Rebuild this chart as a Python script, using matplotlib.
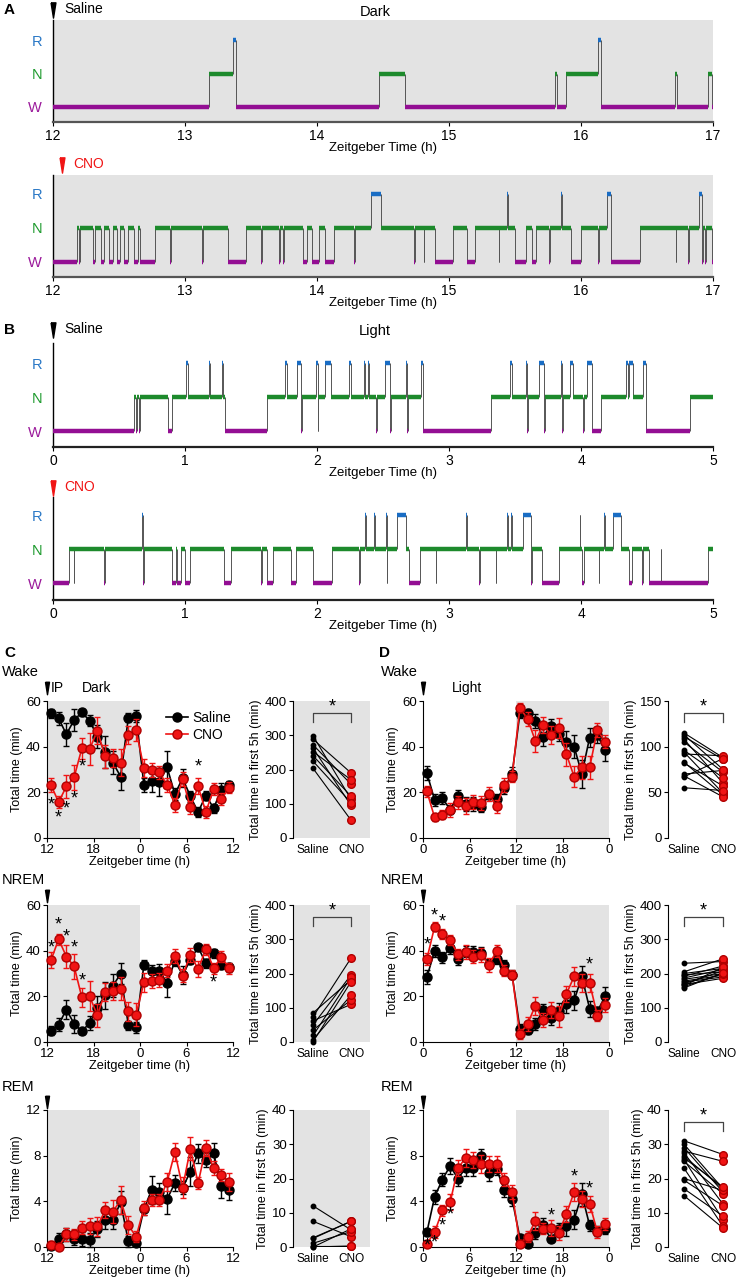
import numpy as np
import matplotlib
matplotlib.use('Agg')
import matplotlib.pyplot as plt
from matplotlib.lines import Line2D

plt.rcParams['font.family'] = ['Liberation Sans', 'DejaVu Sans']

# ---------------- hypnogram data (bout onsets in ZT hours + state) ----------------
a_sal_t = [12.0, 13.18, 13.365, 13.39, 14.47, 14.67, 15.80, 15.815, 15.89, 16.13,
           16.155, 16.71, 16.73, 16.96, 16.99]
a_sal_s = "WNRWNWNWNRWNWNW"

a_cno_t = [12.000, 12.185, 12.200, 12.206, 12.302, 12.320, 12.362, 12.387, 12.423, 12.451,
           12.487, 12.505, 12.540, 12.565, 12.611, 12.647, 12.657, 12.771, 12.888, 12.894,
           13.127, 13.133, 13.322, 13.464, 13.578, 13.586, 13.713, 13.719, 13.741, 13.747,
           13.891, 13.926, 13.962, 14.015, 14.058, 14.129, 14.281, 14.287, 14.406, 14.484,
           14.733, 14.739, 14.807, 14.813, 14.896, 15.028, 15.134, 15.198, 15.376, 15.382,
           15.443, 15.449, 15.500, 15.586, 15.632, 15.660, 15.756, 15.762, 15.852, 15.858,
           15.923, 15.998, 16.129, 16.135, 16.200, 16.229, 16.449, 16.716, 16.722, 16.811,
           16.817, 16.893, 16.918, 16.925, 16.940, 16.946, 16.989]
a_cno_s = ("WNWNWNWNWNWNWNWNWNWN"
           "WNWNWNWNWN"
           "WNWNWNWNRN"
           "WNWNWNWNWN"
           "RNWNWNWNRN"
           "WNWNRWNWNW"
           "NRWNWNW")

b_sal_t = [0.000, 0.610, 0.628, 0.634, 0.653, 0.659, 0.869, 0.898, 1.008, 1.026,
           1.182, 1.192, 1.278, 1.288, 1.302, 1.622, 1.757, 1.771, 1.849, 1.877,
           1.883, 1.994, 2.005, 2.011, 2.058, 2.108, 2.243, 2.260, 2.356, 2.367,
           2.385, 2.395, 2.449, 2.455, 2.516, 2.551, 2.559, 2.672, 2.683, 2.689,
           2.786, 2.800, 3.318, 3.460, 3.481, 3.584, 3.594, 3.600, 3.680, 3.722,
           3.728, 3.847, 3.857, 3.863, 3.918, 3.936, 4.017, 4.023, 4.042, 4.081,
           4.152, 4.343, 4.357, 4.364, 4.397, 4.468, 4.489, 4.826]
b_sal_s = ("WNWNWNWNRN"
           "RNRNWNRNRW"
           "NRWNRNRNRN"
           "RNWNRWNRWN"
           "RWNRNRWNRW"
           "NRWNRNWNRW"
           "NRNRNRWN")

b_cno_t = [0.000, 0.124, 0.156, 0.162, 0.387, 0.393, 0.674, 0.684, 0.690, 0.901,
           0.930, 0.940, 0.972, 1.001, 1.036, 1.295, 1.348, 1.576, 1.582, 1.622,
           1.664, 1.806, 1.842, 1.969, 2.111, 2.317, 2.323, 2.367, 2.373, 2.431,
           2.437, 2.520, 2.527, 2.533, 2.608, 2.676, 2.697, 2.782, 2.899, 2.905,
           3.130, 3.136, 3.226, 3.232, 3.353, 3.359, 3.439, 3.446, 3.471, 3.478,
           3.563, 3.620, 3.626, 3.708, 3.833, 3.989, 3.996, 4.010, 4.020, 4.134,
           4.140, 4.177, 4.183, 4.241, 4.301, 4.365, 4.390, 4.465, 4.471, 4.514,
           4.603, 4.609, 4.965]
b_cno_s = ("WNWNWNRWNW"
           "NWNWNWNWNW"
           "NWNWNWNRNR"
           "NRWNRNWNWN"
           "RNWNWNRNRN"
           "RWNWNRNWNW"
           "NRNRNWNWNW"
           "NWN")

# ---------------- time course data (hourly bins, mean and SEM, min) ----------------
zt_bins = np.arange(24) + 0.5

c_wake_sal = [54.6, 52.4, 45.4, 51.7, 55.0, 51.4, 44.4, 37.6, 33.0, 26.9, 52.7, 53.4,
              23.3, 25.0, 24.6, 30.9, 19.2, 26.2, 18.2, 11.4, 18.6, 13.1, 21.1, 23.0]
c_wake_sal_e = [2, 3, 5, 5, 1.5, 2.5, 5, 7, 5, 6, 2, 2.5, 3, 5, 6, 7, 2.5, 4, 2.5, 2, 2, 2, 3, 2]
c_wake_cno = [23.3, 15.7, 22.6, 26.6, 39.3, 38.9, 47.0, 35.7, 34.9, 33.0, 45.1, 47.3,
              30.6, 29.8, 28.7, 23.3, 14.6, 25.8, 13.4, 22.6, 11.4, 21.5, 17.0, 22.1]
c_wake_cno_e = [3, 2.5, 5, 5.5, 4.5, 7, 6, 5, 4, 6, 4, 5, 4, 3, 3, 3, 3, 3, 3, 3.5, 2.5, 2.5, 2.5, 2.5]

c_nrem_sal = [5.0, 7.6, 14.2, 8.0, 4.7, 8.3, 15.1, 20.4, 24.6, 29.9, 7.3, 6.4,
              33.8, 30.9, 31.3, 25.8, 35.5, 29.4, 36.0, 41.5, 34.5, 38.9, 33.8, 32.8]
c_nrem_sal_e = [2, 3, 4, 4, 1, 3, 5, 6, 5, 4.5, 2, 2.5, 2, 3, 3, 6, 2, 4, 2, 1.5, 2, 2, 2, 2]
c_nrem_cno = [35.7, 45.0, 37.4, 33.1, 19.5, 20.0, 11.7, 21.8, 22.4, 23.3, 13.4, 11.9,
              26.1, 26.8, 27.2, 31.3, 37.7, 29.1, 38.2, 32.0, 40.6, 32.3, 37.4, 32.3]
c_nrem_cno_e = [3.5, 2.5, 5, 5.5, 4, 6.5, 5, 4, 4, 5, 4, 5, 4, 3, 3, 3, 3, 3, 3, 3.5, 2.5, 2.5, 2.5, 2.5]

c_rem_sal = [0.1, 0.7, 1.1, 0.7, 0.7, 0.6, 1.6, 2.4, 2.4, 3.9, 0.5, 0.35,
             3.3, 5.0, 4.8, 4.2, 5.6, 5.2, 6.6, 8.2, 7.6, 8.2, 5.3, 5.0]
c_rem_sal_e = [0.2, 0.5, 0.6, 0.5, 0.6, 0.6, 0.7, 0.8, 0.8, 1.0, 0.5, 0.3,
               0.5, 1.2, 0.8, 1.3, 0.7, 0.6, 1.3, 0.8, 0.6, 0.9, 1.0, 0.9]
c_rem_cno = [0.2, 0.0, 1.1, 1.1, 1.7, 1.8, 1.8, 3.2, 3.1, 4.1, 1.9, 0.9,
             3.4, 4.1, 4.1, 5.7, 8.3, 5.2, 8.6, 5.6, 8.7, 6.9, 6.3, 5.7]
c_rem_cno_e = [0.3, 0.2, 0.6, 0.5, 0.6, 0.7, 0.8, 0.7, 1.0, 1.2, 0.8, 0.5,
               0.6, 0.5, 0.5, 0.8, 0.8, 0.9, 1.0, 0.5, 0.7, 0.6, 0.5, 0.8]

d_wake_sal = [28.4, 16.7, 17.5, 12.4, 18.6, 15.0, 14.9, 13.4, 18.9, 17.2, 21.8, 28.0,
              54.6, 54.9, 51.3, 44.4, 49.2, 45.4, 42.2, 40.0, 28.0, 44.0, 44.9, 38.6]
d_wake_sal_e = [3, 2.5, 2.5, 2, 2.5, 3, 3, 2, 2, 2, 2.5, 3, 2, 1.5, 3, 4, 3, 3, 4.5, 5, 6, 4, 3.5, 5]
d_wake_cno = [20.4, 9.0, 10.2, 12.4, 15.6, 14.2, 15.7, 15.3, 19.4, 13.8, 23.3, 26.9,
              57.1, 52.1, 42.5, 49.5, 45.1, 48.1, 36.7, 26.9, 30.9, 30.9, 47.3, 42.2]
d_wake_cno_e = [2.5, 1.5, 2, 3, 3, 3.5, 3, 3, 3, 3, 3, 2.5, 2, 3, 5, 3.5, 4, 4.5, 5, 4.5, 5, 5, 3, 3]

d_nrem_sal = [28.4, 39.9, 37.1, 41.1, 36.4, 39.6, 39.6, 38.9, 34.2, 36.3, 33.8, 29.4,
              5.8, 5.4, 7.9, 13.8, 10.5, 13.7, 16.6, 18.2, 28.7, 14.6, 13.4, 20.0]
d_nrem_sal_e = [3, 2.5, 2.5, 2.5, 2.5, 2.5, 2.5, 2.5, 2, 2, 2, 2, 2, 2, 2.5, 3, 3, 3.5, 4, 4, 4.5, 3.5, 2, 4]
d_nrem_cno = [36.4, 50.5, 47.3, 44.7, 38.4, 39.3, 37.4, 38.2, 33.8, 39.9, 31.3, 29.4,
              3.5, 8.0, 15.9, 9.5, 14.1, 11.2, 21.0, 28.7, 25.8, 25.8, 11.5, 16.3]
d_nrem_cno_e = [2.5, 2, 2, 2, 2.5, 3, 3, 3, 3, 2.5, 2.5, 2, 2, 3, 4, 3, 3.5, 4.5, 3.5, 4, 4, 4, 2.5, 3]

d_rem_sal = [1.3, 4.4, 5.9, 7.1, 6.0, 6.9, 6.9, 8.0, 6.5, 6.8, 5.0, 4.2,
             0.8, 0.3, 1.2, 1.9, 0.7, 1.6, 1.8, 2.4, 4.6, 1.9, 1.4, 1.6]
d_rem_sal_e = [0.3, 0.6, 0.6, 0.7, 0.7, 0.7, 0.7, 0.6, 0.7, 0.5, 0.6, 0.6,
               0.3, 0.2, 0.5, 0.6, 0.3, 0.5, 0.8, 0.8, 1.0, 0.5, 0.4, 0.5]
d_rem_cno = [0.3, 1.3, 3.2, 3.9, 6.9, 7.8, 7.6, 7.3, 7.3, 7.3, 5.9, 4.8,
             0.3, 0.9, 2.3, 1.6, 1.7, 1.2, 2.9, 4.8, 4.2, 3.8, 1.3, 2.0]
d_rem_cno_e = [0.3, 0.5, 0.5, 0.7, 0.7, 0.8, 0.7, 0.8, 0.7, 0.7, 0.6, 0.6,
               0.3, 0.5, 0.8, 0.5, 0.7, 0.6, 0.7, 0.8, 0.7, 0.7, 0.5, 0.5]

# significance stars: (bin index, y position)
c_wake_stars = [(0, 14.6), (1, 8.7), (2, 12.7), (3, 17.0), (4, 31.3), (19, 30.9)]
c_nrem_stars = [(0, 41.1), (1, 51.3), (2, 45.9), (3, 41.1), (4, 26.9), (21, 25.8)]
d_nrem_stars = [(0, 42.5), (1, 55.3), (2, 52.4), (21, 33.8)]
d_rem_stars = [(0, 0.05), (1, 0.35), (2, 1.8), (3, 2.8), (16, 2.75), (19, 6.1), (21, 5.1)]

# ---------------- total time in first 5 h (per animal) ----------------
c_wake_tot_sal = [298, 288, 272, 262, 252, 240, 224, 203]
c_wake_tot_cno = [113, 190, 157, 95, 170, 122, 103, 52]
c_nrem_tot_sal = [85, 74, 62, 50, 35, 19, 7, 1]
c_nrem_tot_cno = [182, 245, 110, 196, 123, 189, 137, 176]
c_rem_tot_sal = [12, 7.5, 2.7, 2.5, 1.1, 0.3, 0, 0]
c_rem_tot_cno = [5, 3.0, 7.5, 7.5, 4.5, 0.3, 0.3, 5.3]

d_wake_tot_sal = [115, 113, 111, 108, 105, 96, 94, 92, 83, 82, 70, 68, 67, 55]
d_wake_tot_cno = [88, 75, 86, 60, 72, 66, 49, 90, 47, 57, 74, 45, 87, 52]
d_nrem_tot_sal = [230, 205, 200, 196, 192, 187, 183, 178, 175, 170, 168, 165, 162, 158]
d_nrem_tot_cno = [235, 243, 215, 205, 222, 212, 200, 195, 190, 208, 186, 218, 200, 202]
d_rem_tot_sal = [31, 30, 29, 28, 27.5, 26.5, 25.5, 25, 23, 20, 19.5, 17, 15, 26]
d_rem_tot_cno = [27, 17, 16, 25, 12.5, 17, 8, 15.5, 6, 16.5, 12, 9, 5.5, 17.5]

# ---------------- layout helpers ----------------
W_PX, H_PX = 736, 1284
fig = plt.figure(figsize=(7.36, 12.84), dpi=100)

GRAY = '#e3e3e3'
RED = '#f01414'


def add_ax(x0, y0, x1, y1):
    return fig.add_axes([x0 / W_PX, 1 - y1 / H_PX, (x1 - x0) / W_PX, (y1 - y0) / H_PX])


def ftext(x, y, s, **kw):
    kw.setdefault('va', 'center')
    fig.text(x / W_PX, 1 - y / H_PX, s, **kw)


TRI = [(-0.32, 1), (0.32, 1), (0, -1), (-0.32, 1)]


def arrow(x, y, color='k', ms=11):
    fig.add_artist(Line2D([x / W_PX], [1 - y / H_PX], marker=TRI, ms=ms,
                          color=color, mec=color, transform=fig.transFigure))


LEVEL = {'W': 0, 'N': 1, 'R': 2}
STATE_COL = {'W': '#930e93', 'N': '#1d8a2c', 'R': '#1a6dc4'}


def hypno(ax, t, s, t_end, ylim, shade):
    ends = list(t[1:]) + [t_end]
    for i, (a, b, st) in enumerate(zip(t, ends, s)):
        ax.hlines(LEVEL[st], a, b, color=STATE_COL[st], lw=3.2, zorder=3)
        if i > 0:
            ax.vlines(a, LEVEL[s[i - 1]], LEVEL[st], color='#555555', lw=0.7, zorder=2)
    ax.set_xlim(t[0], t_end)
    ax.set_ylim(*ylim)
    if shade:
        ax.set_facecolor(GRAY)
    for sp in ['top', 'right']:
        ax.spines[sp].set_visible(False)
    ax.spines['left'].set_linewidth(1.0)
    ax.spines['bottom'].set_color('#555555' if shade else '#222222')
    ax.spines['bottom'].set_linewidth(1.6)
    ax.set_yticks([0, 1, 2])
    ax.set_yticklabels(['W', 'N', 'R'], fontsize=10.5)
    for lab, c in zip(ax.get_yticklabels(), ['#9b1b9b', '#1e9b2e', '#2a78c6']):
        lab.set_color(c)
    ax.tick_params(axis='y', length=0, pad=8)
    ax.tick_params(axis='x', length=3, labelsize=10, pad=2)
    ax.set_xticks(np.arange(t[0], t_end + 0.1, 1))
    ax.set_xlabel('Zeitgeber Time (h)', fontsize=9.5, labelpad=-1)


# ---------------- A / B hypnograms ----------------
ax = add_ax(53, 20, 713, 122)
hypno(ax, a_sal_t, a_sal_s, 17, (-0.45, 2.6), True)
ax = add_ax(53, 175, 713, 277)
hypno(ax, a_cno_t, a_cno_s, 17, (-0.45, 2.55), True)
ax = add_ax(53, 343, 713, 447)
hypno(ax, b_sal_t, b_sal_s, 5, (-0.47, 2.6), False)
ax = add_ax(53, 497, 713, 600)
hypno(ax, b_cno_t, b_cno_s, 5, (-0.5, 2.53), False)

ftext(4, 10, 'A', fontsize=11, fontweight='bold')
arrow(53, 10)
ftext(64, 9, 'Saline', fontsize=10)
ftext(375, 12, 'Dark', fontsize=10.5, ha='center')
arrow(62, 165, RED)
ftext(73, 164, 'CNO', fontsize=10, color=RED)
ftext(4, 330, 'B', fontsize=11, fontweight='bold')
arrow(53, 330)
ftext(64, 329, 'Saline', fontsize=10)
ftext(375, 331, 'Light', fontsize=10.5, ha='center')
arrow(53, 488, RED)
ftext(64, 487, 'CNO', fontsize=10, color=RED)


# ---------------- C / D time courses ----------------
def timecourse(ax, sal, sal_e, cno, cno_e, ymax, yticks, shade, xlabels, stars):
    ax.axvspan(shade[0], shade[1], color=GRAY, lw=0, zorder=0)
    ax.errorbar(zt_bins, sal, yerr=sal_e, color='k', marker='o', ms=6.5, lw=1.2,
                capsize=2, elinewidth=1, capthick=1, zorder=3, clip_on=False)
    ax.errorbar(zt_bins, cno, yerr=cno_e, color=RED, mec='#b00000', marker='o', ms=6.5,
                lw=1.2, capsize=2, elinewidth=1, capthick=1, zorder=4, clip_on=False)
    for i, y in stars:
        ax.text(zt_bins[i], y, '*', fontsize=13, ha='center', va='center', zorder=5)
    ax.set_xlim(0, 24)
    ax.set_ylim(0, ymax)
    ax.set_xticks([0, 6, 12, 18, 24])
    ax.set_xticklabels(xlabels)
    ax.set_yticks(yticks)
    for sp in ['top', 'right']:
        ax.spines[sp].set_visible(False)
    ax.tick_params(labelsize=9.5, length=3, pad=1.5)
    ax.set_ylabel('Total time (min)', fontsize=9, labelpad=2)
    ax.set_xlabel('Zeitgeber time (h)', fontsize=9.2, labelpad=0)


def paired(ax, sal, cno, ymax, yticks, shade, sig):
    if shade:
        ax.set_facecolor(GRAY)
    for a, b in zip(sal, cno):
        ax.plot([0, 1], [a, b], color='k', lw=0.8, zorder=2)
    ax.plot(np.zeros(len(sal)), sal, 'o', color='k', ms=3.2, zorder=3, clip_on=False)
    ax.plot(np.ones(len(cno)), cno, 'o', color=RED, mec='#b00000', ms=5.5, zorder=3, clip_on=False)
    if sig:
        y1, y2 = ymax * 0.85, ymax * 0.91
        ax.plot([0, 0, 1, 1], [y1, y2, y2, y1], color='#444444', lw=0.9)
        ax.text(0.5, ymax * 0.955, '*', fontsize=13, ha='center', va='center')
    ax.set_ylim(0, ymax)
    ax.set_yticks(yticks)
    ax.set_xticks([0, 1])
    ax.set_xticklabels(['Saline', 'CNO'])
    for sp in ['top', 'right', 'bottom']:
        ax.spines[sp].set_visible(False)
    ax.tick_params(axis='x', length=0, labelsize=8.5, pad=4)
    ax.tick_params(axis='y', labelsize=9.5, length=3, pad=1.5)
    ax.set_ylabel('Total time in first 5h (min)', fontsize=9, labelpad=2)


rows = [(701, 838), (905, 1042), (1110, 1247)]
c_tc = [(c_wake_sal, c_wake_sal_e, c_wake_cno, c_wake_cno_e, 60, [0, 20, 40, 60], c_wake_stars),
        (c_nrem_sal, c_nrem_sal_e, c_nrem_cno, c_nrem_cno_e, 60, [0, 20, 40, 60], c_nrem_stars),
        (c_rem_sal, c_rem_sal_e, c_rem_cno, c_rem_cno_e, 12, [0, 4, 8, 12], [])]
d_tc = [(d_wake_sal, d_wake_sal_e, d_wake_cno, d_wake_cno_e, 60, [0, 20, 40, 60], []),
        (d_nrem_sal, d_nrem_sal_e, d_nrem_cno, d_nrem_cno_e, 60, [0, 20, 40, 60], d_nrem_stars),
        (d_rem_sal, d_rem_sal_e, d_rem_cno, d_rem_cno_e, 12, [0, 4, 8, 12], d_rem_stars)]
c_tot = [(c_wake_tot_sal, c_wake_tot_cno, 400, [0, 100, 200, 300, 400], True),
         (c_nrem_tot_sal, c_nrem_tot_cno, 400, [0, 100, 200, 300, 400], True),
         (c_rem_tot_sal, c_rem_tot_cno, 40, [0, 10, 20, 30, 40], False)]
d_tot = [(d_wake_tot_sal, d_wake_tot_cno, 150, [0, 50, 100, 150], True),
         (d_nrem_tot_sal, d_nrem_tot_cno, 400, [0, 100, 200, 300, 400], True),
         (d_rem_tot_sal, d_rem_tot_cno, 40, [0, 10, 20, 30, 40], True)]

c_wake_ax = None
for (y0, y1), c, d, ct, dt in zip(rows, c_tc, d_tc, c_tot, d_tot):
    ax = add_ax(47, y0, 233, y1)
    timecourse(ax, *c[:6], (0, 12), ['12', '18', '0', '6', '12'], c[6])
    if c_wake_ax is None:
        c_wake_ax = ax
    ax = add_ax(423, y0, 609, y1)
    timecourse(ax, *d[:6], (12, 24), ['0', '6', '12', '18', '0'], d[6])
    ax = add_ax(293, y0, 370, y1)
    paired(ax, ct[0], ct[1], ct[2], ct[3], True, ct[4])
    ax.set_xlim(-0.53, 1.5)
    ax = add_ax(668, y0, 736, y1)
    paired(ax, dt[0], dt[1], dt[2], dt[3], False, dt[4])
    ax.set_xlim(-0.41, 1.33)

# legend in C wake
h_sal = Line2D([], [], color='k', marker='o', ms=6.5, lw=1.2)
h_cno = Line2D([], [], color=RED, mec='#b00000', marker='o', ms=6.5, lw=1.2)
c_wake_ax.legend([h_sal, h_cno], ['Saline', 'CNO'], loc='upper left', bbox_to_anchor=(0.61, 0.97),
                 frameon=False, fontsize=10, handlelength=1.6, handletextpad=0.3,
                 borderaxespad=0, labelspacing=0.25)

ftext(4, 653, 'C', fontsize=11, fontweight='bold')
ftext(379, 653, 'D', fontsize=11, fontweight='bold')
for x_lab, x_arr in [(2, 47), (381, 423)]:
    ftext(x_lab, 672, 'Wake', fontsize=10.5)
    ftext(x_lab, 880, 'NREM', fontsize=10.5)
    ftext(x_lab, 1087, 'REM', fontsize=10.5)
    arrow(x_arr, 688, ms=9)
    arrow(x_arr, 896, ms=9)
    arrow(x_arr, 1102, ms=9)
ftext(51, 688, 'IP', fontsize=10)
ftext(82, 688, 'Dark', fontsize=10)
ftext(452, 688, 'Light', fontsize=10)

fig.savefig('out.png', dpi=100)
